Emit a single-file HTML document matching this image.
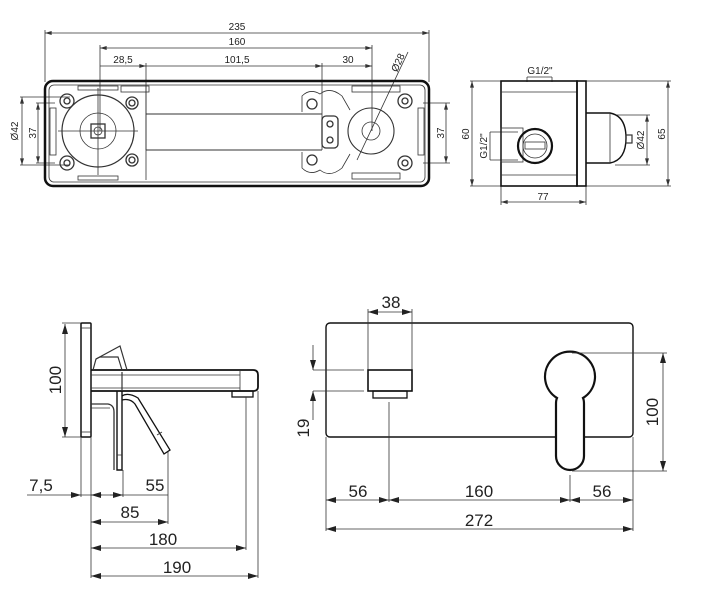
<!DOCTYPE html>
<html><head><meta charset="utf-8"><style>
html,body{margin:0;padding:0;background:#fff;}
svg{display:block;}
text{font-family:"Liberation Sans",Arial,sans-serif;fill:#222;}
</style></head><body>
<svg width="709" height="601" viewBox="0 0 709 601" xmlns="http://www.w3.org/2000/svg">
<defs>
<marker id="a" viewBox="0 0 10 6" refX="10" refY="3" markerWidth="10" markerHeight="6" markerUnits="userSpaceOnUse" orient="auto-start-reverse"><path d="M0,0 L10,3 L0,6 Z" fill="#222"/></marker>
<marker id="s" viewBox="0 0 10 6" refX="10" refY="3" markerWidth="7" markerHeight="4" markerUnits="userSpaceOnUse" orient="auto-start-reverse"><path d="M0,0 L10,3 L0,6 Z" fill="#333"/></marker>
</defs>
<g fill="none" stroke="#333" stroke-width="0.8">
<!-- TOP PLAN VIEW -->
<line x1="45" y1="33" x2="429" y2="33" marker-start="url(#s)" marker-end="url(#s)"/>
<line x1="45" y1="30" x2="45" y2="82"/><line x1="429" y1="30" x2="429" y2="82"/>
<line x1="100" y1="48" x2="372" y2="48" marker-start="url(#s)" marker-end="url(#s)"/>
<line x1="100" y1="45" x2="100" y2="131"/><line x1="372" y1="45" x2="372" y2="131"/>
<line x1="100" y1="66" x2="146" y2="66" marker-end="url(#s)"/>
<line x1="146" y1="66" x2="322" y2="66" marker-end="url(#s)"/>
<line x1="322" y1="66" x2="372" y2="66" marker-end="url(#s)"/>
<line x1="146" y1="63" x2="146" y2="150"/><line x1="322" y1="63" x2="322" y2="150"/>
<line x1="408" y1="52" x2="357" y2="160"/>
<line x1="22" y1="97" x2="22" y2="165" marker-start="url(#s)" marker-end="url(#s)"/>
<line x1="20" y1="97" x2="70" y2="97"/><line x1="20" y1="165" x2="70" y2="165"/>
<line x1="38" y1="103" x2="38" y2="163" marker-start="url(#s)" marker-end="url(#s)"/>
<line x1="36" y1="103" x2="55" y2="103"/><line x1="36" y1="163" x2="55" y2="163"/>
<line x1="446" y1="103" x2="446" y2="163" marker-start="url(#s)" marker-end="url(#s)"/>
<line x1="423" y1="103" x2="450" y2="103"/><line x1="423" y1="163" x2="450" y2="163"/>
<rect x="45" y="81" width="384" height="105" rx="8" stroke="#111" stroke-width="2.5"/>
<rect x="49" y="85" width="376" height="97" rx="5" stroke-width="0.8"/>
<rect x="50" y="108" width="6" height="47"/><rect x="418" y="108" width="6" height="47"/>
<rect x="352" y="86" width="48" height="6"/><rect x="352" y="173" width="48" height="6"/>
<rect x="121" y="86" width="28" height="6"/><rect x="78" y="86" width="40" height="4"/>
<rect x="78" y="176" width="40" height="4"/>
<line x1="146" y1="114" x2="322" y2="114" stroke-width="1"/><line x1="146" y1="150" x2="322" y2="150" stroke-width="1"/>
<line x1="146" y1="86" x2="146" y2="180"/>
<circle cx="98" cy="131" r="36" stroke-width="1.2"/>
<circle cx="98" cy="131" r="18"/>
<rect x="91" y="124" width="14" height="14" stroke-width="1.3"/>
<circle cx="98" cy="131" r="4"/>
<line x1="58" y1="131" x2="138" y2="131"/><line x1="98" y1="88" x2="98" y2="175"/>
<g stroke-width="1.3">
<circle cx="67" cy="101" r="7"/><circle cx="67" cy="101" r="3"/>
<circle cx="67" cy="163" r="7"/><circle cx="67" cy="163" r="3"/>
<circle cx="132" cy="103" r="6"/><circle cx="132" cy="103" r="3"/>
<circle cx="132" cy="160" r="6"/><circle cx="132" cy="160" r="3"/>
<circle cx="405" cy="101" r="7"/><circle cx="405" cy="101" r="3"/>
<circle cx="405" cy="163" r="7"/><circle cx="405" cy="163" r="3"/>
<circle cx="312" cy="104" r="5"/><circle cx="312" cy="160" r="5"/>
<rect x="322" y="116" width="16" height="32" rx="4"/>
<circle cx="330" cy="124" r="3"/><circle cx="330" cy="140" r="3"/>
</g>
<path d="M302 112 L302 96 Q310 88 320 94 Q330 86 342 96 L350 110"/>
<path d="M302 152 L302 168 Q310 176 320 170 Q330 178 342 168 L350 154"/>
<circle cx="371" cy="131" r="23" stroke-width="1.1"/>
<circle cx="371" cy="131" r="9"/>
<!-- SIDE VIEW RIGHT -->
<line x1="527" y1="77" x2="527" y2="82"/><line x1="552" y1="77" x2="552" y2="82"/><line x1="527" y1="77" x2="552" y2="77"/>
<line x1="472" y1="81" x2="472" y2="186" marker-start="url(#s)" marker-end="url(#s)"/>
<line x1="470" y1="81" x2="501" y2="81"/><line x1="470" y1="186" x2="501" y2="186"/>
<line x1="490" y1="132" x2="490" y2="160"/><line x1="490" y1="132" x2="518" y2="132"/><line x1="490" y1="160" x2="518" y2="160"/>
<line x1="647" y1="115" x2="647" y2="165" marker-start="url(#s)" marker-end="url(#s)"/>
<line x1="615" y1="115" x2="650" y2="115"/><line x1="615" y1="165" x2="650" y2="165"/>
<line x1="668" y1="81" x2="668" y2="186" marker-start="url(#s)" marker-end="url(#s)"/>
<line x1="586" y1="81" x2="671" y2="81"/><line x1="586" y1="186" x2="671" y2="186"/>
<line x1="501" y1="202" x2="586" y2="202" marker-start="url(#s)" marker-end="url(#s)"/>
<line x1="501" y1="186" x2="501" y2="205"/><line x1="586" y1="186" x2="586" y2="205"/>
<rect x="501" y="81" width="76" height="105" stroke="#111" stroke-width="1.6"/>
<line x1="501" y1="92" x2="577" y2="92"/><line x1="501" y1="175" x2="577" y2="175"/>
<rect x="577" y="81" width="9" height="105" stroke="#111" stroke-width="1.6"/>
<path d="M586 113 L610 113 Q626 116 626 138 Q626 160 610 163 L586 163" stroke="#111" stroke-width="1.4"/>
<line x1="610" y1="113" x2="610" y2="163"/>
<rect x="626" y="135" width="6" height="8" stroke-width="1.2"/>
<rect x="501" y="128" width="22" height="34"/>
<circle cx="535" cy="146" r="17" stroke="#111" stroke-width="2.2"/>
<circle cx="535" cy="146" r="12"/>
<rect x="525" y="142" width="20" height="7"/>
<!-- BOTTOM LEFT SIDE VIEW -->
<line x1="65" y1="324" x2="65" y2="437" marker-start="url(#a)" marker-end="url(#a)"/>
<line x1="62" y1="323" x2="82" y2="323"/><line x1="62" y1="437" x2="82" y2="437"/>
<rect x="81" y="323" width="10" height="114" rx="1" stroke="#111" stroke-width="1.5"/>
<line x1="81" y1="328" x2="91" y2="328"/><line x1="81" y1="432" x2="91" y2="432"/>
<path d="M91 370 L253 370 Q258 370 258 375 L258 387 Q258 391 253 391 L91 391" stroke="#111" stroke-width="1.8"/>
<line x1="91" y1="375" x2="240" y2="375"/><line x1="91" y1="388" x2="240" y2="388"/><line x1="240" y1="370" x2="240" y2="391"/>
<rect x="232" y="391" width="21" height="6" stroke="#111" stroke-width="1.3"/>
<path d="M93 370 L96 359 L120 346 L127 370" stroke-width="1.2"/>
<path d="M96 359 L100 357 L118 357 L122 370" stroke-width="1.2"/>
<path d="M122 391 L122 372" stroke-width="1.2"/>
<path d="M117 391 L117 470 L122 470 L122 391" stroke="#111" stroke-width="1.4"/>
<line x1="117" y1="455" x2="122" y2="455"/>
<path d="M122 396 Q128 392 138 398 L170 450 L164 454 L135 404 Q130 398 122 400" stroke="#111" stroke-width="1.3"/>
<line x1="157" y1="435" x2="162" y2="432"/>
<path d="M91 404 L108 404 Q114 405 114 412 L114 470" stroke-width="1.3"/>
<line x1="91" y1="408" x2="110" y2="408"/>
<line x1="81" y1="437" x2="81" y2="497"/>
<line x1="91" y1="437" x2="91" y2="578"/>
<line x1="123" y1="470" x2="123" y2="497"/>
<line x1="168" y1="452" x2="168" y2="524"/>
<line x1="246" y1="397" x2="246" y2="550"/>
<line x1="258" y1="391" x2="258" y2="578"/>
<line x1="27" y1="495" x2="81" y2="495" marker-end="url(#a)"/>
<line x1="81" y1="495" x2="168" y2="495"/>
<line x1="91" y1="495" x2="102" y2="495" marker-start="url(#a)"/>
<line x1="110" y1="495" x2="123" y2="495" marker-end="url(#a)"/>
<line x1="91" y1="522" x2="168" y2="522" marker-start="url(#a)" marker-end="url(#a)"/>
<line x1="91" y1="548" x2="246" y2="548" marker-start="url(#a)" marker-end="url(#a)"/>
<line x1="91" y1="576" x2="258" y2="576" marker-start="url(#a)" marker-end="url(#a)"/>
<!-- BOTTOM RIGHT FRONT VIEW -->
<rect x="326" y="323" width="307" height="114" rx="4" stroke="#111" stroke-width="1.4"/>
<line x1="368" y1="312" x2="412" y2="312" marker-start="url(#a)" marker-end="url(#a)"/>
<line x1="368" y1="309" x2="368" y2="370"/><line x1="412" y1="309" x2="412" y2="370"/>
<rect x="368" y="370" width="44" height="21" stroke="#111" stroke-width="1.6"/>
<rect x="373" y="391" width="34" height="7" stroke="#111" stroke-width="1.3"/>
<line x1="313" y1="370" x2="364" y2="370"/><line x1="313" y1="391" x2="364" y2="391"/>
<line x1="313" y1="345" x2="313" y2="370" marker-end="url(#a)"/>
<line x1="313" y1="420" x2="313" y2="391" marker-end="url(#a)"/>
<path d="M556 404 Q556 400 557 398 A25 25 0 1 1 583 398 Q584 400 584 404 L584 456 A14 14 0 0 1 556 456 Z" fill="#fff" stroke="#111" stroke-width="2.2"/>
<line x1="572" y1="353" x2="667" y2="353"/><line x1="572" y1="471" x2="667" y2="471"/>
<line x1="663" y1="353" x2="663" y2="471" marker-start="url(#a)" marker-end="url(#a)"/>
<line x1="326" y1="437" x2="326" y2="531"/><line x1="633" y1="437" x2="633" y2="531"/>
<line x1="389" y1="402" x2="389" y2="502"/><line x1="570" y1="475" x2="570" y2="502"/>
<line x1="326" y1="500" x2="389" y2="500" marker-start="url(#a)" marker-end="url(#a)"/>
<line x1="389" y1="500" x2="570" y2="500" marker-start="url(#a)" marker-end="url(#a)"/>
<line x1="570" y1="500" x2="633" y2="500" marker-start="url(#a)" marker-end="url(#a)"/>
<line x1="326" y1="529" x2="633" y2="529" marker-start="url(#a)" marker-end="url(#a)"/>
</g>
<g font-size="10" text-anchor="middle">
<text x="237" y="30">235</text>
<text x="237" y="45">160</text>
<text x="123" y="63">28,5</text>
<text x="237" y="63">101,5</text>
<text x="348" y="63">30</text>
<text x="0" y="0" transform="translate(401,64) rotate(-65)">Ø28</text>
<text x="0" y="0" transform="translate(18,131) rotate(-90)">Ø42</text>
<text x="0" y="0" transform="translate(36,133) rotate(-90)">37</text>
<text x="0" y="0" transform="translate(444,133) rotate(-90)">37</text>
<text x="540" y="74">G1/2"</text>
<text x="0" y="0" transform="translate(469,134) rotate(-90)">60</text>
<text x="0" y="0" transform="translate(487,146) rotate(-90)">G1/2"</text>
<text x="0" y="0" transform="translate(644,140) rotate(-90)">Ø42</text>
<text x="0" y="0" transform="translate(665,134) rotate(-90)">65</text>
<text x="543" y="200">77</text>
</g>
<g font-size="17" text-anchor="middle">
<text x="0" y="0" transform="translate(61,380) rotate(-90)">100</text>
<text x="41" y="491">7,5</text>
<text x="155" y="491">55</text>
<text x="130" y="518">85</text>
<text x="163" y="545">180</text>
<text x="177" y="573">190</text>
<text x="391" y="308">38</text>
<text x="0" y="0" transform="translate(309,428) rotate(-90)">19</text>
<text x="0" y="0" transform="translate(658,412) rotate(-90)">100</text>
<text x="358" y="497">56</text>
<text x="479" y="497">160</text>
<text x="602" y="497">56</text>
<text x="479" y="526">272</text>
</g>
</svg>
</body></html>
